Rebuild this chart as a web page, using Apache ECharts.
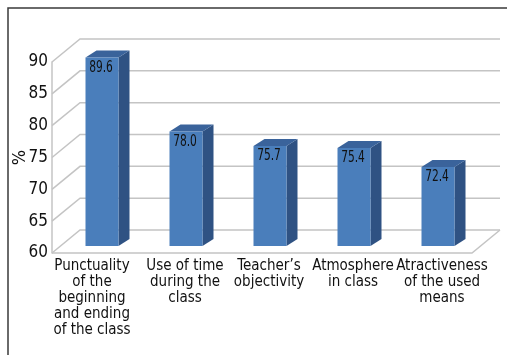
<!DOCTYPE html>
<html>
<head>
<meta charset="utf-8">
<script src="https://cdn.jsdelivr.net/npm/echarts@6/dist/echarts.min.js"></script>
<style>
html,body{margin:0;padding:0;background:#fff;}
#c{width:507px;height:355px;}
</style>
</head>
<body>
<div id="c"></div>
<script>
const categories = [
  "Punctuality\nof the\nbeginning\nand ending\nof the class",
  "Use of time\nduring the\nclass",
  "Teacher\u2019s\nobjectivity",
  "Atmosphere\nin class",
  "Atractiveness\nof the used\nmeans"
];
const values = [89.6, 78.0, 75.7, 75.4, 72.4];
const yTicks = [60, 65, 70, 75, 80, 85, 90];

const FONT = "'DejaVu Sans Condensed','Liberation Sans Narrow',sans-serif";
const WALL_DX = 28, WALL_DY = -23;   // depth of the box
const BAR_DX = 8, BAR_DY = -7;       // bar plane offset from front plane
const BAR_HW = 16.5;                 // half width of bar front face
const SIDE_DX = 11, SIDE_DY = -7;    // bar depth
const GRID_COLOR = '#c4c4c4';
const TEXT_COLOR = '#111';

const chart = echarts.init(document.getElementById('c'), null, {renderer: 'canvas'});

function renderWall(params, api) {
  const cs = params.coordSys;
  const v = api.value(1);
  const y = api.coord([0, v])[1];
  const x0 = cs.x, x1 = cs.x + cs.width;
  const children = [{
    type: 'polyline',
    shape: {points: [[x0, y], [x0 + WALL_DX, y + WALL_DY], [x1 + WALL_DX, y + WALL_DY]]},
    style: {stroke: GRID_COLOR, lineWidth: 1.5, fill: null}
  }];
  if (v === yTicks[0]) {
    children.push({
      type: 'polyline',
      shape: {points: [[x0, y], [x1, y], [x1 + WALL_DX, y + WALL_DY]]},
      style: {stroke: GRID_COLOR, lineWidth: 1.5, fill: null}
    });
  }
  return {type: 'group', children: children};
}

function renderBar(params, api) {
  const idx = api.value(0);
  const val = api.value(1);
  const p = api.coord([idx, val]);
  const b = api.coord([idx, yTicks[0]]);
  const cx = p[0] + BAR_DX;
  const top = p[1] + BAR_DY;
  const bot = b[1] + BAR_DY;
  const l = cx - BAR_HW, r = cx + BAR_HW;
  return {
    type: 'group',
    children: [
      {type: 'polygon', shape: {points: [[r, top], [r + SIDE_DX, top + SIDE_DY], [r + SIDE_DX, bot + SIDE_DY], [r, bot]]},
       style: {fill: '#2f5283'}},
      {type: 'polygon', shape: {points: [[l, top], [l + SIDE_DX, top + SIDE_DY], [r + SIDE_DX, top + SIDE_DY], [r, top]]},
       style: {fill: '#3a639b'}},
      {type: 'rect', shape: {x: l, y: top, width: r - l, height: bot - top},
       style: {fill: '#4a7ebb'}},
      {type: 'text', x: cx - 1, y: top + 10, scaleX: 0.74, scaleY: 1,
       style: {text: val.toFixed(1), fill: TEXT_COLOR, font: '16px ' + FONT, align: 'center', verticalAlign: 'middle'}}
    ]
  };
}

function richLabel(pad) {
  return {fontSize: 15, lineHeight: 16, fontFamily: FONT, color: TEXT_COLOR, padding: pad};
}

const option = {
  animation: false,
  backgroundColor: '#fff',
  graphic: [{
    type: 'rect', z: 100,
    shape: {x: 8, y: 8, width: 560, height: 400},
    style: {fill: null, stroke: '#3a3a3a', lineWidth: 1.5}
  }],
  grid: {left: 52, top: 62, width: 420, height: 191, containLabel: false, outerBoundsMode: 'none'},
  xAxis: {
    type: 'category',
    data: categories,
    boundaryGap: true,
    axisLine: {show: false},
    axisTick: {show: false},
    splitLine: {show: false},
    axisLabel: {
      interval: 0,
      margin: 5,
      hideOverlap: false,
      formatter: function (val, i) {
        const key = i === 0 ? 'f' : (i === categories.length - 1 ? 'e' : 'n');
        return '{' + key + '|' + val + '}';
      },
      rich: {
        f: richLabel([0, 4, 0, 0]),
        n: richLabel([0, 0, 0, 14]),
        e: richLabel([0, 0, 0, 24])
      }
    }
  },
  yAxis: {
    type: 'value',
    min: yTicks[0],
    max: yTicks[yTicks.length - 1],
    interval: yTicks[1] - yTicks[0],
    name: '%',
    nameLocation: 'middle',
    nameRotate: 90,
    nameGap: 23,
    nameMoveOverlap: false,
    nameTextStyle: {fontSize: 18, fontFamily: FONT, color: TEXT_COLOR},
    axisLine: {show: true, lineStyle: {color: GRID_COLOR, width: 1.5}},
    axisTick: {show: false},
    splitLine: {show: false},
    axisLabel: {fontSize: 17, fontFamily: FONT, color: TEXT_COLOR, margin: 4, padding: [3, 0, 0, 0]}
  },
  series: [
    {
      type: 'custom',
      coordinateSystem: 'cartesian2d',
      clip: false,
      silent: true,
      z: 1,
      renderItem: renderWall,
      data: yTicks.map(function (v) { return [0, v]; })
    },
    {
      type: 'custom',
      coordinateSystem: 'cartesian2d',
      clip: false,
      z: 2,
      renderItem: renderBar,
      data: values.map(function (v, i) { return [i, v]; })
    }
  ]
};
chart.setOption(option);
</script>
</body>
</html>
